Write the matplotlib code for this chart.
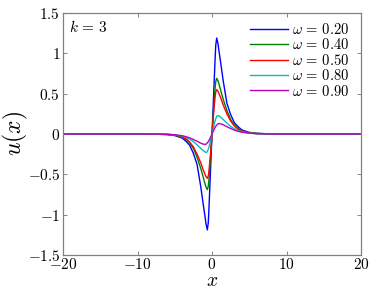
import matplotlib
matplotlib.use('Agg')
import matplotlib.pyplot as plt

plt.rcParams['mathtext.fontset'] = 'cm'
plt.rcParams['font.family'] = 'serif'
plt.rcParams['font.serif'] = ['DejaVu Serif']

# sample positions along x, shared by all curves
x = [-20, -10, -8, -6, -5, -4, -3.5, -3, -2.5, -2, -1.5, -1.2, -0.9, -0.8, -0.63,
     -0.5, -0.4, -0.2, 0, 0.2, 0.4, 0.5, 0.63, 0.8, 0.9, 1.2, 1.5, 2, 2.5, 3, 3.5,
     4, 5, 6, 8, 10, 20]

u_020 = [0, 0, -0.001, -0.008, -0.02, -0.05, -0.09, -0.14, -0.24, -0.38, -0.66, -0.86,
         -1.05, -1.12, -1.19, -1.1, -0.9, -0.45, 0, 0.45, 0.9, 1.1, 1.19, 1.12, 1.05,
         0.86, 0.66, 0.38, 0.24, 0.14, 0.09, 0.05, 0.02, 0.008, 0.001, 0, 0]
u_040 = [0, 0, -0.001, -0.006, -0.015, -0.04, -0.065, -0.11, -0.18, -0.29, -0.43, -0.53,
         -0.63, -0.66, -0.69, -0.65, -0.55, -0.3, 0, 0.3, 0.55, 0.65, 0.69, 0.66, 0.63,
         0.53, 0.43, 0.29, 0.18, 0.11, 0.065, 0.04, 0.015, 0.006, 0.001, 0, 0]
u_050 = [0, 0, -0.001, -0.005, -0.013, -0.035, -0.06, -0.1, -0.16, -0.25, -0.36, -0.44,
         -0.51, -0.53, -0.55, -0.52, -0.45, -0.24, 0, 0.24, 0.45, 0.52, 0.55, 0.53, 0.51,
         0.44, 0.36, 0.25, 0.16, 0.1, 0.06, 0.035, 0.013, 0.005, 0.001, 0, 0]
u_080 = [0, 0, -0.001, -0.004, -0.011, -0.027, -0.042, -0.065, -0.095, -0.135, -0.18,
         -0.205, -0.225, -0.23, -0.22, -0.19, -0.16, -0.08, 0, 0.08, 0.16, 0.19, 0.22,
         0.23, 0.225, 0.205, 0.18, 0.135, 0.095, 0.065, 0.042, 0.027, 0.011, 0.004,
         0.001, 0, 0]
u_090 = [0, 0, -0.001, -0.004, -0.009, -0.022, -0.033, -0.048, -0.068, -0.09, -0.115,
         -0.125, -0.13, -0.125, -0.11, -0.095, -0.08, -0.04, 0, 0.04, 0.08, 0.095, 0.11,
         0.125, 0.13, 0.125, 0.115, 0.09, 0.068, 0.048, 0.033, 0.022, 0.009, 0.004,
         0.001, 0, 0]

series = [u_020, u_040, u_050, u_080, u_090]
labels = [r'$\omega\,=\,0.20$', r'$\omega\,=\,0.40$', r'$\omega\,=\,0.50$',
          r'$\omega\,=\,0.80$', r'$\omega\,=\,0.90$']
colors = ['#0000ff', '#008000', '#ff0000', '#00bfbf', '#bf00bf']

xticks = [-20, -10, 0, 10, 20]
yticks = [-1.5, -1, -0.5, 0, 0.5, 1, 1.5]
ytick_labels = [r'$-1.5$', r'$-1$', r'$-0.5$', r'$0$', r'$0.5$', r'$1$', r'$1.5$']
xtick_labels = [r'$-20$', r'$-10$', r'$0$', r'$10$', r'$20$']

fig = plt.figure(figsize=(3.74, 2.9), dpi=100)
ax = fig.add_axes([0.1684, 0.121, 0.797, 0.834])

for u, lab, c in zip(series, labels, colors):
    ax.plot(x, u, color=c, lw=1.0, label=lab)

ax.set_xlim(-20, 20)
ax.set_ylim(-1.5, 1.5)
ax.set_xticks(xticks)
ax.set_xticklabels(xtick_labels)
ax.set_yticks(yticks)
ax.set_yticklabels(ytick_labels)
ax.tick_params(direction='in', length=3, width=0.6, colors='0.45', labelcolor='black',
               labelsize=11, top=True, right=True, pad=2)
ax.tick_params(axis='x', pad=1.5)
for s in ax.spines.values():
    s.set_color('0.5')
    s.set_linewidth(0.9)

ax.set_xlabel(r'$x$', fontsize=14)
ax.xaxis.set_label_coords(0.5, -0.072)
ax.set_ylabel(r'$u(x)$', fontsize=17, labelpad=-2)
ax.text(0.02, 0.975, r'$k\,=\,3$', transform=ax.transAxes, fontsize=11,
        va='top', ha='left')

ax.legend(loc='upper right', frameon=False, fontsize=10.5, handlelength=2.6,
          handletextpad=0.3, labelspacing=0.03, borderaxespad=0.2,
          bbox_to_anchor=(0.99, 1.0))

fig.savefig('out.png', dpi=100)
